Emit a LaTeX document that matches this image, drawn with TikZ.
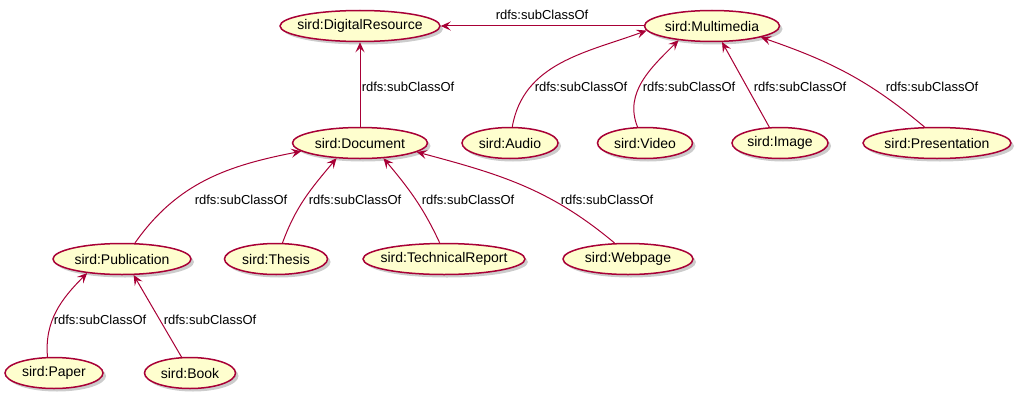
\documentclass[tikz,border=0pt]{standalone}
\usepackage{fontspec}
\setmainfont{Liberation Sans}
\usepackage{tikz}
\usetikzlibrary{shapes.geometric, arrows.meta, shadows}
\definecolor{ucfill}{HTML}{FEFECE}
\definecolor{ucline}{HTML}{A80036}

\begin{document}
\begin{tikzpicture}[x=1pt, y=1pt,
        usecase/.style={ellipse, draw=ucline, fill=ucfill, line width=1.5pt,
            inner xsep=-12pt, inner ysep=0pt, minimum height=31pt,
            font=\fontsize{14}{16}\selectfont,
            drop shadow={shadow xshift=3pt, shadow yshift=-3pt, fill=black!40, opacity=0.5}},
        subclass/.style={draw=ucline, line width=1pt, -{Stealth[length=10pt, width=9pt, inset=4pt]}},
        rel/.style={font=\fontsize{13}{15}\selectfont}]
        \useasboundingbox (0,0) rectangle (1027,400);
        \node [usecase, minimum width=160pt] (dr) at (360,374) {sird:DigitalResource};
        \node [usecase, minimum width=135pt] (mm) at (712,374) {sird:Multimedia};
        \node [usecase, minimum width=135pt] (doc) at (360,257) {sird:Document};
        \node [usecase, minimum width=96pt] (audio) at (510,257) {sird:Audio};
        \node [usecase, minimum width=95pt] (video) at (645,257) {sird:Video};
        \node [usecase, minimum width=96pt] (image) at (780,257) {sird:Image};
        \node [usecase, minimum width=148pt] (pres) at (937,257) {sird:Presentation};
        \node [usecase, minimum width=138pt] (pub) at (122,141) {sird:Publication};
        \node [usecase, minimum width=103pt] (thesis) at (276,141) {sird:Thesis};
        \node [usecase, minimum width=162pt] (tr) at (444,141) {sird:TechnicalReport};
        \node [usecase, minimum width=130pt] (web) at (628,141) {sird:Webpage};
        \node [usecase, minimum width=98pt] (paper) at (54,27) {sird:Paper};
        \node [usecase, minimum width=91pt] (book) at (190,27) {sird:Book};
        \draw [subclass] (mm) -- (dr);
        \draw [subclass] (doc) -- (dr);
        \draw [subclass] (audio.82) to [out=80, in=200] (mm.184);
        \draw [subclass] (video.115) to [out=112, in=225] (mm.203);
        \draw [subclass] (image.124) -- (mm.302);
        \draw [subclass] (pres.128) to [out=140, in=-19] (mm.347);
        \draw [subclass] (pub.51) to [out=55, in=191] (doc.188);
        \draw [subclass] (thesis.68) to [out=70, in=230] (doc.213);
        \draw [subclass] (tr.105) to [out=115, in=-50] (doc.327);
        \draw [subclass] (web.130) to [out=140, in=-15] (doc.351);
        \draw [subclass] (paper.112) to [out=95, in=225] (pub.202);
        \draw [subclass] (book.118) -- (pub.306);
        \node [rel] (l1) at (542,385) {rdfs:subClassOf};
        \node [rel] (l2) at (408,313) {rdfs:subClassOf};
        \node [rel] (l3) at (581,313) {rdfs:subClassOf};
        \node [rel] (l4) at (689,313) {rdfs:subClassOf};
        \node [rel] (l5) at (800,313) {rdfs:subClassOf};
        \node [rel] (l6) at (932,313) {rdfs:subClassOf};
        \node [rel] (l7) at (241,200) {rdfs:subClassOf};
        \node [rel] (l8) at (355,200) {rdfs:subClassOf};
        \node [rel] (l9) at (468,200) {rdfs:subClassOf};
        \node [rel] (l10) at (607,200) {rdfs:subClassOf};
        \node [rel] (l11) at (100,80) {rdfs:subClassOf};
        \node [rel] (l12) at (210,80) {rdfs:subClassOf};
    \end{tikzpicture}
\end{document}
